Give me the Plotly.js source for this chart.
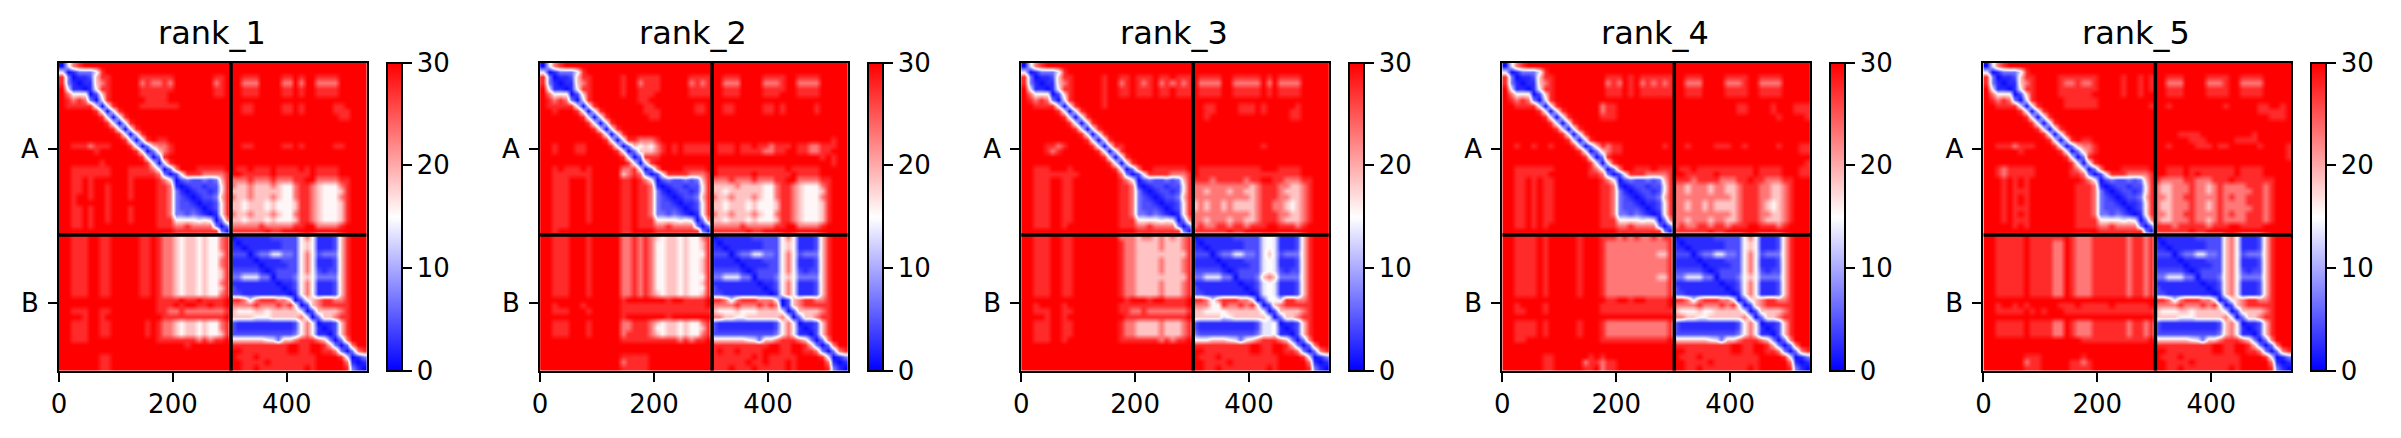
<!DOCTYPE html>
<html><head><meta charset="utf-8">
<script src="https://cdn.plot.ly/plotly-3.0.1.min.js"></script>
<style>html,body{margin:0;padding:0;background:#fff}#c{width:2401px;height:438px}</style>
</head><body><div id="c"></div>
<script>
const rankNames=["rank_1","rank_2","rank_3","rank_4","rank_5"];
const chainLabels=["A","B"];
const chainCenters=[151,421];
const chainBreak=[302];
const xTicks=[0,200,400];
const cbTicks=[0,10,20,30];
const paeLevels=[0.5,2.5,4.5,7,13.5,15.5,18.5,23,27.5,30];
const residuesPerCell=10;
const rank1=[
"0478999999 9999999999 9999999999 9999999999 9999999999 9999",
"4013334899 9999999999 9999999999 9999999999 9999999999 9999",
"8301126889 9999888888 9999999889 9988899998 8989988889 9999",
"8310116789 9999787787 9999999789 9977799997 7979977779 9999",
"9411015889 9999888888 9999999889 9988899998 8989988889 9999",
"9755502689 9999888889 9999999889 9988899998 8989988889 9999",
"9878730489 9999988889 9999999999 9999999999 9999999999 9999",
"9888884048 9999888888 8999999999 9988999998 8989999988 9999",
"9999998404 8999999999 9999999999 9988999998 8989999988 8999",
"9999999840 4899999999 9999999999 9999999999 9999999998 8999",
"9999999984 0489999999 9999999999 9999999999 9999999999 9999",
"9999999998 4048999999 9999999999 9999999999 9999999999 9999",
"9999999999 8404899999 9999999999 9999999999 9999999999 9999",
"9999999999 9840489889 9999999999 9999999999 9999999999 9999",
"9988878889 9984036778 9999999999 9988999998 8989999988 9999",
"9999998999 9998403678 9999999999 9999999999 9999999999 9999",
"9999999999 9999840389 9999999999 9999999999 9999999999 9999",
"9999999899 9999984048 9999999999 9999999999 9999999999 9999",
"9988888889 9988887403 7999888889 9889888988 8898988889 9999",
"9988888889 9988888730 2588877778 9988888988 8888988889 9999",
"9988989999 9989999875 0232232368 7778777877 7889977778 8999",
"9988989989 9989999887 1012212258 7667666765 5788765557 8999",
"9988989989 9989999887 3101221258 6667666665 5788765556 8999",
"9989989989 9989999887 3210122368 7667666765 5788765557 8999",
"9989999989 9999999887 3221011258 6656665655 5688765556 8999",
"9988989989 9989999887 3222101258 6656665655 5688765556 8999",
"9988989989 9989999887 3323210158 7667666765 5788765556 8999",
"9988989989 9989999888 5555454037 6656665655 5688765556 8999",
"9988989999 9999999888 7787777303 7777787777 7889977778 9999",
"9999999999 9999999999 8888888830 8888889889 9999999999 9999",
"9988899889 9999889877 6566565578 0111111222 2257511126 8999",
"9988899889 9999889877 6566565578 1011111112 2256511126 8999",
"9988899889 9999889877 6566565578 1101111112 2256511126 8999",
"9988899889 9999889877 6566565568 2220233443 3257523336 8999",
"9988899889 9999889877 6566565578 1111011112 2257511126 8999",
"9988899889 9999889877 6566565578 1111101111 2257511126 8999",
"9988899889 9999889877 6566565568 2222210122 2257521226 8999",
"9988899889 9999889877 6566565568 3344433022 2356533336 8999",
"9988899889 9999889877 6566565578 1111111101 1257511126 8999",
"9988899889 9999889877 6566565568 2111111110 1257511126 8999",
"9988899889 9999889877 6566565578 2211111111 0157511126 8999",
"9999999999 9999999888 8988988889 8874788877 5025678877 8999",
"9999999999 9999999888 9899889889 7777877787 8502678888 8999",
"9988899889 9999999887 7877777778 6555665666 6640266667 8999",
"9999899899 9999999988 8888888889 6666555666 6674036678 8999",
"9988899889 9999989877 6566565578 2111111111 1257501126 8999",
"9988899889 9999989877 6566565578 2111111111 1257510126 8999",
"9988899889 9999989877 6566565568 2222222222 2357511026 8999",
"9988899999 9999999888 8888787889 6666665436 6788876303 7999",
"9999999999 9999999999 9989999999 8888888888 9988998630 3799",
"9999999999 9999999999 9999999999 9988888888 9988998873 0378",
"9999999889 9999999999 9999999999 9888988888 8888899998 4013",
"9999999889 9999999999 9999999999 9988889888 8888899999 7101",
"9999999889 9999999999 9999999999 9988988888 8889899999 8310"];
const rank2=[
"0478999999 9999999999 9999999999 9999999999 9999999999 9999",
"4013334899 9999999999 9999999999 9999999999 9999999999 9999",
"8301126889 9999899888 8999998888 9988899998 8889988889 9999",
"8310116789 9999899788 8999997878 9977799997 7789977779 9999",
"9411015889 9999899888 8999998888 9988899998 8889988889 9999",
"9755502689 9999899888 9999998888 9988899998 8899988889 9999",
"9878730489 9999999889 9999999999 9999999999 9999999999 9999",
"9888884048 9999999988 9999999889 9988999998 8989999989 9999",
"9989998404 8999999988 8999999889 9988999998 8989999989 9999",
"9999999840 4899999998 8999999999 9999999999 9999999999 9999",
"9999999984 0489999999 9999999999 9999999999 9999999999 9999",
"9999999998 4048999999 9999999999 9999999999 9999999999 9999",
"9999999999 8404899999 9999999999 9999999999 9999999999 9999",
"9999999999 9840488777 8999999999 9999999999 9999999999 9899",
"9989998899 9984036565 7898988888 9888988988 7888988778 8899",
"9989998899 9998403666 7898988888 9888988887 7889988778 8999",
"9999999999 9999840388 8999999999 9999999999 9999999998 9899",
"9999999999 9999984048 9999999999 9999999999 9999999999 9899",
"9989888989 9999778403 7999988889 9888888888 8889888889 9999",
"9988888889 9999678730 2588887778 9888888988 8888988889 9999",
"9988899989 9999889875 0232232368 7778777877 7889977778 8999",
"9988899989 9999889887 1012212258 6666766665 5788765557 8999",
"9988899989 9999889887 3101221258 6656666665 5788765556 8999",
"9988899989 9999889887 3210122368 7667666765 5788765557 8999",
"9988899989 9999889887 3221011258 6656665655 5688765556 8999",
"9988899989 9999889887 3222101258 6656665655 5688765556 8999",
"9988899989 9999889887 3323210158 7667666765 5788765556 8999",
"9988899989 9999889888 5555454037 6656665655 5688765556 8999",
"9988899999 9999889888 7787777303 7777787777 7889977778 9999",
"9989999999 9999889999 8888888830 8888889889 9999999999 9999",
"9988899989 9999778787 6566565578 0111111222 2257511126 8999",
"9988899989 9999778787 5566565568 1011111112 2256511126 8999",
"9988899989 9999778787 5566565568 1101111112 2256511126 8999",
"9988899989 9999778787 5566565558 2220233443 3257523336 8999",
"9988899989 9999778787 5566565568 1111011112 2257511126 8999",
"9988899989 9999778787 5566565568 1111101111 2257511126 8999",
"9988899989 9999778787 5566565568 2222210122 2257521226 8999",
"9988899989 9999778787 5566565558 3344433022 2356533336 8999",
"9988899989 9999778787 5566565568 1111111101 1257511126 8999",
"9988899989 9999778787 5566565558 2111111110 1257511126 8999",
"9988899989 9999778787 6566565568 2211111111 0157511126 8999",
"9999999999 9999899999 9989988889 8874788877 7502678877 8999",
"9989999899 9999888888 8888888889 7777877787 8702678888 8999",
"9988899989 9999888888 8888888888 6555655566 6640266667 8999",
"9999999999 9999899999 9989999999 7766556666 6674036678 8999",
"9988899989 9999778887 6566565578 2111111111 1257501126 8999",
"9988899989 9999778887 5566565568 2111111111 1257510126 8999",
"9988899989 9999788887 6566565578 2222222222 2357511026 8999",
"9999999999 9999888888 8888787889 6666665436 6788876303 7999",
"9999999999 9999999999 9999999999 8888888888 9988998630 3799",
"9999999999 9999999999 9999999999 8988988889 9988998873 0378",
"9999999999 9999888889 9999999999 8888888989 8888899998 4013",
"9999999999 9999788889 9999999999 8888889889 8889899999 7101",
"9999999999 9999888889 9999999999 8889888988 8889899999 8310"];
const rank3=[
"0478999999 9999999999 9999999999 9999999999 9999999999 9999",
"4013334899 9999999999 9999999999 9999999999 9999999999 9999",
"8301126889 9999899889 8889889888 9888899888 8898988889 9999",
"8310116789 9999899789 8789787878 9777799777 7797977779 9999",
"9411015889 9999899889 8889889888 9888899888 8898988889 9999",
"9755502689 9999899889 8889889888 9888899888 8898988889 9999",
"9878730489 9999899999 9999999999 9999999999 9999999999 9999",
"9988884048 9999899999 9999999999 9988999988 8989999989 9999",
"9999998404 8999999999 9999999999 9988999988 8989999889 9999",
"9999999840 4899999999 9999999999 9989999999 9999999889 9999",
"9999999984 0489999999 9999999999 9999999999 9999999999 9999",
"9999999998 4048999999 9999999999 9999999999 9999999999 9999",
"9999999999 8404899999 9999999999 9999999999 9999999999 9999",
"9999999999 9840489999 9999999999 9999999999 9999999999 9999",
"9999887899 9984048899 9999999999 9999999999 9989999999 9999",
"9999878999 9998404899 9999999999 9999999999 9999999999 9999",
"9999999999 9999840489 9999999999 9999999999 9999999999 9999",
"9999999999 9999984048 9999999999 9999999999 9999999999 9999",
"9988899989 9999998403 7998888889 9888888888 8899988889 9999",
"9988888888 9999999730 2588887778 9888888888 8888888889 9999",
"9988899889 9999999875 0232232368 8887888887 8899887778 8999",
"9988899889 9999999887 1012212258 7777777777 6788877667 8999",
"9988899889 9999999887 3101221258 7767776776 6788876667 8999",
"9988899889 9999999887 3210122368 7777777777 6788877667 8999",
"9988899889 9999999887 3221011258 6767767666 6788776567 8999",
"9988899889 9999999887 3222101258 6767767666 6788776567 8999",
"9988899889 9999999887 3323210158 7777777777 6788877667 8999",
"9988899889 9999999888 5555454037 7767776776 6788876667 8999",
"9988899899 9999999888 7787777303 7877887887 8889988878 9999",
"9999999999 9999999999 8888888830 8888889889 9999999999 9999",
"9988899889 9999999777 6776767678 0111111222 2245411126 8999",
"9988899889 9999999877 6666766678 1011111112 2245411126 8999",
"9988899889 9999999877 6666766678 1101111112 2245411126 8999",
"9988899889 9999999877 6666666668 2220233443 3246423336 8999",
"9988899889 9999999877 6666766678 1111011112 2245411126 8999",
"9988899889 9999999877 6666766678 1111101111 2245411126 8999",
"9988899889 9999999877 6666766678 2222210122 2245421226 8999",
"9988899889 9999999877 6666666668 3344433022 2367633336 8999",
"9988899889 9999999877 6666766678 1111111101 1245411126 8999",
"9988899889 9999999877 6666766678 2111111110 1245411126 8999",
"9988899889 9999999877 6666766678 2211111111 0145411126 8999",
"9999999999 9999999989 9989988889 8874788877 5025548877 8999",
"9989999899 9999999888 8888888889 7775587787 8502678888 8999",
"9988899889 9999999887 7877777778 6655556666 6640266667 8999",
"9999899899 9999999988 8888888889 6666645666 6664036678 8999",
"9988899889 9999999877 6666766678 2111111111 1244501126 8999",
"9988899889 9999999877 6666766678 2111111111 1244510126 8999",
"9988899889 9999999877 6666766678 3222222222 2344511026 8999",
"9988899899 9999999888 8888787889 5556665435 6788876303 7999",
"9999999999 9999999999 9999999999 8888888888 9988998630 3799",
"9999999999 9999999999 9999999999 9988888888 9988998873 0378",
"9999999999 9999999999 9999999999 9888988888 8888899998 4013",
"9999999999 9999999999 9999999999 9988889888 8888899999 7101",
"9999999999 9999999999 9999999999 9988988888 8889899999 8310"];
const rank4=[
"0478999999 9999999999 9999999999 9999999999 9999999999 9999",
"4013334899 9999999999 9999999999 9999999999 9999999999 9999",
"8301126889 9999999988 8989888888 9988899998 8889988889 9999",
"8310116789 9999999978 7989787878 9977799997 7789977779 9999",
"9411015889 9999999988 8989888888 9988899998 8889988889 9999",
"9755502689 9999999988 8989888888 9988899998 8889988889 9999",
"9878730489 9999999999 9999999999 9999999999 9999999999 9999",
"9988884048 9999999788 9999999999 9999999999 9889999899 9888",
"9999998404 8999999788 9999999999 9999999999 9889999899 9888",
"9999999840 4899999888 9999999999 9999999999 9999999989 9998",
"9999999984 0489999999 9999999999 9999999999 9999999999 9999",
"9999999998 4048999999 9999999999 9999999999 9999999999 9999",
"9999999999 8404899999 9999999999 9999999999 9999999999 9999",
"9999999999 9840489999 9999999999 9999999999 9999999999 9999",
"9989989989 9984036878 8999999989 9989999888 9989999989 9988",
"9999999999 9998403678 8999999999 9999999999 9999999999 9988",
"9999999999 9999840389 9999999999 9999999999 9999999999 9999",
"9999999999 9999984048 9999999999 9999999999 9999999999 9998",
"9988888889 9999987403 7998889888 9889888888 8888988889 9988",
"9988888899 9999988730 2588877778 9988888988 8888988889 9988",
"9988989889 9999999875 0232232368 8887888877 7889887778 8999",
"9988989889 9999999887 1012212258 7767776776 6788877667 8999",
"9988989889 9999999887 3101221258 7767776776 6788877667 8999",
"9988989889 9999999887 3210122368 7777777777 6788877667 8999",
"9988989889 9999999887 3221011258 7767767666 6788876567 8999",
"9988989889 9999999887 3222101258 7767767666 6788876567 8999",
"9988989889 9999999887 3323210158 7777777777 6788877667 8999",
"9988989889 9999999888 5555454037 7767776776 6788876667 8999",
"9988989899 9999999888 7787777303 7877887887 8889988878 9999",
"9999999999 9999999999 8888888830 8888889889 9999999999 9999",
"9988889899 9998999888 7878778788 0111111222 2257511126 8999",
"9988889899 9998999877 7777777778 1011111112 2256511126 8999",
"9988889899 9998999877 7777777778 1101111112 2256511126 8999",
"9988889899 9998999877 7777777668 2220233443 3257523336 8999",
"9988889899 9998999877 7777777778 1111011112 2257511126 8999",
"9988889899 9998999877 7777777778 1111101111 2257511126 8999",
"9988889899 9998999877 7777777778 2222210122 2257521226 8999",
"9988889899 9998999877 7777777668 3344433022 2356533336 8999",
"9988889899 9998999877 7777777778 1111111101 1257511126 8999",
"9988889899 9998999877 7777777778 2111111110 1257511126 8999",
"9988889899 9998999877 7777777778 2211111111 0157511126 8999",
"9999999999 9999999988 9989988889 8874788877 5025678877 8999",
"9989999899 9999999888 8888888889 7777877787 8502678888 8999",
"9988999899 9999999888 8888888888 6555655666 6640266667 8999",
"9999999999 9999999999 9999999999 7766556666 6674036678 8999",
"9988889899 9998999877 7777777778 2111111111 1257501126 8999",
"9988889899 9998999877 7777777778 2111111111 1257510126 8999",
"9988889899 9998999877 7777777778 2222222222 2357511026 8999",
"9988999999 9999999888 8888888889 6666665436 6788876303 7999",
"9999999999 9999999999 9999999999 8888888888 9988998630 3799",
"9999999999 9999999999 9999999999 9988888888 9988998873 0378",
"9999999889 9999989899 9999999999 9888988888 8888899998 4013",
"9999999889 9999788788 9999999999 9988889888 8888899999 7101",
"9999999889 9999889788 9999999999 9988988888 8889899999 8310"];
const rank5=[
"0478999999 9999999999 9999999999 9999999999 9999999999 9999",
"4013334899 9999999999 9999999999 9999999999 9999999999 9999",
"8301126889 9998888888 9999899898 9988899998 8889988889 9999",
"8310116789 9998778778 9999899898 9977799997 7789977779 9999",
"9411015889 9998888888 9999899898 9988899998 8889988889 9999",
"9755502689 9998888889 9999899899 9988899998 8889988889 9999",
"9878730489 9999888888 9999999999 9999999999 9999999999 9999",
"9988884048 9999888888 9999999998 9989999999 9989999988 9989",
"9999998404 8999999999 9999999999 9999999999 9999999988 8889",
"9999999840 4899999999 9999999999 9999999999 9999999999 8889",
"9999999984 0489999999 9999999999 9999999999 9999999999 9999",
"9999999998 4048999999 9999999999 9999999999 9999999999 9999",
"9999999999 8404899999 9999999999 9999888899 9999999899 9999",
"9999999999 9840489889 9999999999 9999998889 9999888899 9999",
"9988878889 9984036778 9999999999 9989999888 9889999989 9998",
"9999998999 9998403678 9999999999 9999999999 9999999999 9998",
"9999999999 9999840389 9999999999 9999999999 9999999999 9998",
"9999999999 9999984048 9999999999 9999999999 9999999999 9999",
"9987888889 9999987403 7999888889 9988898888 8888988889 9999",
"9987888889 9999988730 2588877778 9988898988 8888988889 9999",
"9998989899 9999999875 0232232368 8777788777 8889888888 8999",
"9998989899 9999998887 1012212258 7667778776 7877778887 8999",
"9998988899 9999998887 3101221258 7667778776 7877777887 8999",
"9998989899 9999998887 3210122368 7767788777 7878778887 8999",
"9998989899 9999998887 3221011258 7667778776 7877778887 8999",
"9998988899 9999998887 3222101258 7667778776 7877777887 8999",
"9998989899 9999998887 3323210158 7767788777 7878778887 8999",
"9998988899 9999998888 5555454037 7667778776 7877778887 8999",
"9999989899 9999998888 7787777303 8887888887 8889988889 9999",
"9999999999 9999999999 8888888830 8888889889 9999999999 9999",
"9988888988 8888987778 8888878878 0111111222 2267511126 8999",
"9988888988 8877987778 8888878878 1011111112 2267511126 8999",
"9988888988 8877987778 8888878878 1101111112 2267511126 8999",
"9988888988 8877987778 8888878878 2220233443 3267523336 8999",
"9988888988 8877987778 8888878878 1111011112 2267511126 8999",
"9988888988 8877987778 8888878878 1111101111 2267511126 8999",
"9988888988 8877987778 8888878878 2222210122 2267521226 8999",
"9988888988 8877987778 8888878878 3344433022 2367533336 8999",
"9988888988 8877987778 8888878878 1111111101 1267511126 8999",
"9988888988 8877987778 8888878878 2111111110 1267511126 8999",
"9988888988 8877987778 8888878878 2211111111 0167511126 8999",
"9999999999 9999999999 9999999999 8874788877 5025678877 8999",
"9989989899 9998889888 8898888889 7777877787 8502678888 8999",
"9988888989 8999888888 8888888888 6555665666 6640266667 8999",
"9999999999 9999999999 9999999999 6666555666 6674036678 8999",
"9988888988 8877987778 8888878878 2111111111 1267501126 8999",
"9988888988 8877987778 8888878878 2111111111 1267510126 8999",
"9988888988 8877987778 8888878878 2222222222 2367511026 8999",
"9999999999 9999999888 8888888889 6666665436 6788876303 7999",
"9999999999 9999999999 9999999999 8888888888 9988998630 3799",
"9999999999 9999999999 9999999999 9988888888 9988998873 0378",
"9999999888 9999999899 9999999999 9888988888 8888899998 4013",
"9999999788 9999988789 9999999999 9988889888 8888899999 7101",
"9999999888 9999988889 9999999999 9988988888 8889899999 8310"];
const rankGrids=[rank1,rank2,rank3,rank4,rank5];

const W=2401,H=438,L0=59,STEP=481.1,PW=307.6,TOP=62.7,BOT=370.7,CBX=327.6;
const centers=rank1.map((_,i)=>(i+0.5)*residuesPerCell);
const span=rank1.length*residuesPerCell;
const font={family:"DejaVu Sans, sans-serif",size:26,color:"#000"};
const traces=[],shapes=[],annotations=[],layout={
  width:W,height:H,margin:{l:0,r:0,t:0,b:0},paper_bgcolor:"#fff",plot_bgcolor:"#fff",font,showlegend:false
};
rankNames.forEach((name,k)=>{
  const s=k?String(k+1):"";
  const left=L0+STEP*k;
  const z=rankGrids[k].map(r=>r.replace(/ /g,"").padEnd(54,"9").split("").map(c=>paeLevels[+c]));
  traces.push({type:"heatmap",x:centers,y:centers,z,xaxis:"x"+s,yaxis:"y"+s,zmin:0,zmax:30,zsmooth:"best",
    colorscale:[[0,"rgb(0,0,255)"],[0.5,"rgb(255,255,255)"],[1,"rgb(255,0,0)"]],hoverinfo:"skip",
    colorbar:{x:(left+CBX)/W,xanchor:"left",y:1-(TOP+BOT)/2/H,yanchor:"middle",lenmode:"pixels",len:BOT-TOP,
      thicknessmode:"pixels",thickness:15,xpad:0,ypad:0,outlinewidth:2,outlinecolor:"#000",
      tickmode:"array",tickvals:cbTicks,ticktext:cbTicks.map(String),ticks:"outside",ticklen:9,tickwidth:2,tickcolor:"#000",
      tickfont:font}});
  layout["xaxis"+s]={domain:[left/W,(left+PW)/W],anchor:"y"+s,range:[0,span],tickmode:"array",tickvals:xTicks,
    ticks:"outside",ticklen:9,tickwidth:2,tickcolor:"#000",showline:true,mirror:true,linewidth:2,linecolor:"#000",showgrid:false,zeroline:false,tickfont:font};
  layout["yaxis"+s]={domain:[1-BOT/H,1-TOP/H],anchor:"x"+s,range:[span,0],tickmode:"array",tickvals:chainCenters,ticktext:chainLabels,ticklabelstandoff:4,
    ticks:"outside",ticklen:9,tickwidth:2,tickcolor:"#000",showline:true,mirror:true,linewidth:2,linecolor:"#000",showgrid:false,zeroline:false,tickfont:font};
  chainBreak.forEach(b=>{
    shapes.push({type:"line",xref:"x"+s,yref:"y"+s,x0:b,x1:b,y0:0,y1:span,line:{color:"#000",width:3.5}});
    shapes.push({type:"line",xref:"x"+s,yref:"y"+s,x0:0,x1:span,y0:b,y1:b,line:{color:"#000",width:3.5}});
  });
  annotations.push({text:name,xref:"paper",yref:"paper",x:(left+PW/2-1)/W,y:1-54/H,xanchor:"center",yanchor:"bottom",
    showarrow:false,font:{family:font.family,size:32,color:"#000"}});
});
layout.shapes=shapes;layout.annotations=annotations;
Plotly.newPlot("c",traces,layout,{displayModeBar:false,staticPlot:true});
</script></body></html>
